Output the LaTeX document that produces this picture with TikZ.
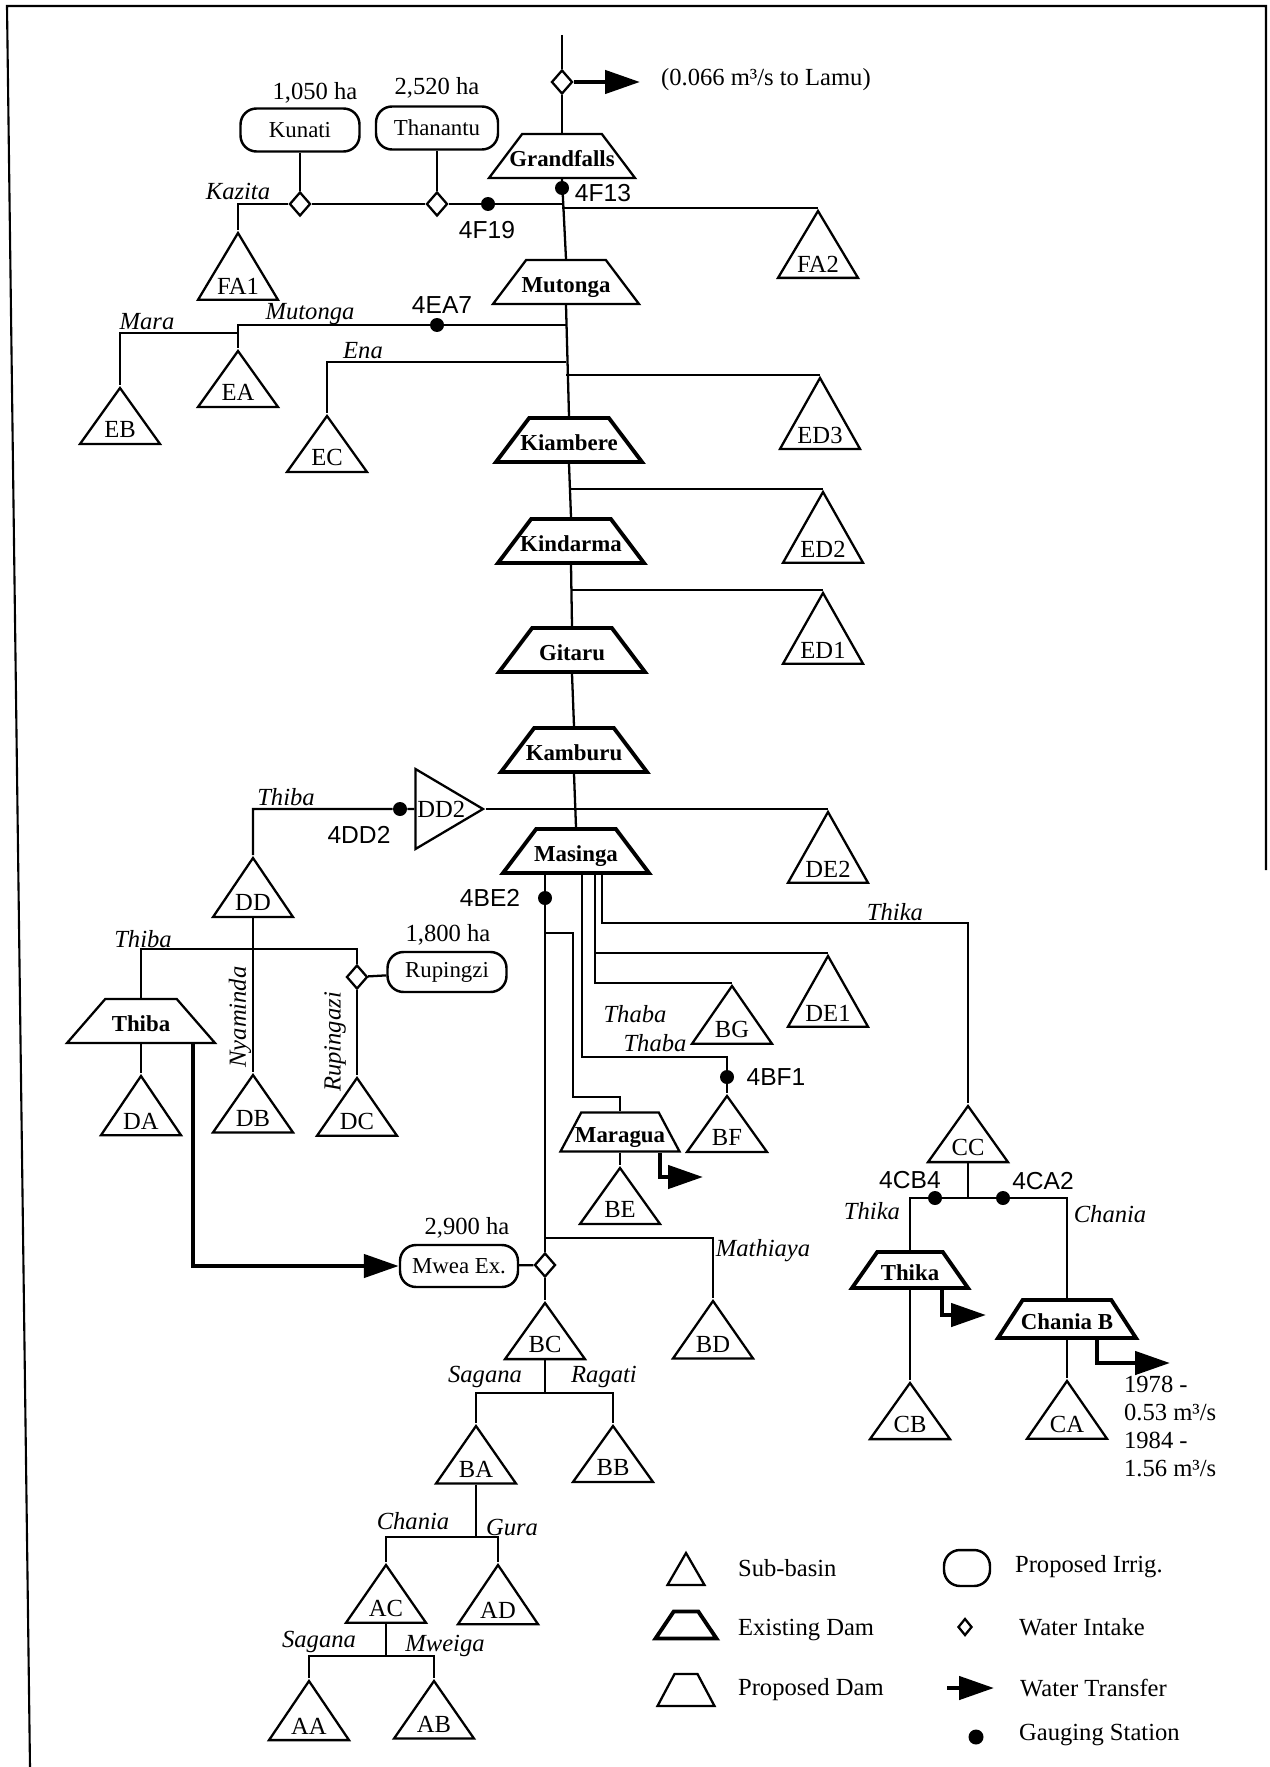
\documentclass[tikz,border=0pt]{standalone}
\usepackage{fontspec}
\setmainfont{Liberation Serif}
\newfontfamily\stnfont{Liberation Sans}
\usetikzlibrary{shapes.geometric}
\usetikzlibrary{arrows.meta}

\begin{document}
\begin{tikzpicture}[
    x=0.02cm, y=-0.02cm,
    % node styles
    basin/.style = {
      isosceles triangle,
      isosceles triangle stretches,
      shape border rotate=90,
      draw, line width=1.3pt,
      minimum width=1.6cm, minimum height=1.12cm,
      inner sep=0pt, anchor=apex,
      font=\fontsize{14}{16}\selectfont
    },
    dam/.style = {
      trapezium, trapezium angle=53,
      trapezium stretches body,
      draw, line width=1.3pt,
      minimum width=2.92cm, minimum height=0.88cm,
      text height=0.43cm, text depth=0cm,
      inner xsep=0pt, inner ysep=0.225cm,
      font=\bfseries\fontsize{13}{15}\selectfont
    },
    olddam/.style = {dam, line width=2.2pt},
    irrig/.style = {
      rectangle, rounded corners=0.32cm,
      draw, line width=1.4pt,
      minimum width=2.38cm, minimum height=0.86cm,
      inner sep=0pt,
      font=\fontsize{13}{15}\selectfont
    },
    intake/.style = {diamond, draw, fill=white, line width=1.3pt,
      inner sep=0pt, minimum width=0.42cm, minimum height=0.48cm},
    gauge/.style = {circle, fill=black, inner sep=0pt, minimum size=0.28cm},
    river/.style = {font=\itshape\fontsize{14}{16}\selectfont, inner sep=1pt},
    stn/.style = {font=\stnfont\fontsize{14}{16}\selectfont, inner sep=1pt},
    txt/.style = {font=\fontsize{14}{16}\selectfont, inner sep=1pt},
    % arrow styles
    flow/.style = {line width=1.3pt},
    transfer/.style = {-{Triangle[length=0.7cm, width=0.46cm]}, line width=2.6pt},
    frame/.style = {line width=1.2pt}
  ]
  \useasboundingbox (0,0) rectangle (1269,1767);

  % --- Frame
  \coordinate (tl) at (7,6);
  \coordinate (tr) at (1266,6);
  \coordinate (bl) at (30,1767);
  \coordinate (br) at (1266,870);
  \draw[frame] (bl) -- (tl) -- (tr) -- (br);

  % --- Dams
  \node[dam]    (grand) at (562,156) {\makebox[0pt]{Grandfalls}};
  \node[dam]    (mut)   at (566,282) {\makebox[0pt]{Mutonga}};
  \node[olddam] (kiam)  at (569,440) {\makebox[0pt]{Kiambere}};
  \node[olddam] (kind)  at (571,541) {\makebox[0pt]{Kindarma}};
  \node[olddam] (gita)  at (572,650) {\makebox[0pt]{Gitaru}};
  \node[olddam] (kamb)  at (574,750) {\makebox[0pt]{Kamburu}};
  \node[olddam] (masi)  at (576,851) {\makebox[0pt]{Masinga}};
  \node[dam, minimum width=2.96cm, trapezium angle=49] (thibad) at (141,1021) {\makebox[0pt]{Thiba}};
  \node[dam, minimum width=2.38cm, minimum height=0.78cm, inner ysep=0.175cm, trapezium angle=62] (marag) at (620,1132) {\makebox[0pt]{Maragua}};
  \node[olddam, minimum width=2.32cm, minimum height=0.72cm, inner ysep=0.145cm, trapezium angle=55] (thikad) at (910,1270) {\makebox[0pt]{Thika}};
  \node[olddam, minimum width=2.76cm, minimum height=0.76cm, inner ysep=0.165cm, trapezium angle=57] (chanb) at (1067,1319) {\makebox[0pt]{Chania B}};

  % --- Sub-basins
  \node[basin] (fa1) at (238,230) {FA1};
  \node[basin] (fa2) at (818,208) {FA2};
  \node[basin] (ea)  at (238,348) {EA};
  \node[basin] (eb)  at (120,385) {EB};
  \node[basin] (ec)  at (327,413) {EC};
  \node[basin] (ed3) at (820,375) {ED3};
  \node[basin] (ed2) at (823,489) {ED2};
  \node[basin] (ed1) at (823,590) {ED1};
  \node[basin] (de2) at (828,809) {DE2};
  \node[basin] (dd)  at (253,855) {DD};
  \node[basin] (de1) at (828,953) {DE1};
  \node[basin] (bg)  at (732,983) {BG};
  \node[basin] (bf)  at (727,1093) {BF};
  \node[basin] (be)  at (620,1165) {BE};
  \node[basin] (cc)  at (968,1103) {CC};
  \node[basin] (da)  at (141,1073) {DA};
  \node[basin] (db)  at (253,1072) {DB};
  \node[basin] (dc)  at (357,1075) {DC};
  \node[basin] (cb)  at (910,1380) {CB};
  \node[basin] (ca)  at (1067,1378) {CA};
  \node[basin] (bc)  at (545,1300) {BC};
  \node[basin] (bd)  at (713,1298) {BD};
  \node[basin] (ba)  at (476,1423) {BA};
  \node[basin] (bb)  at (613,1423) {BB};
  \node[basin] (ac)  at (386,1562) {AC};
  \node[basin] (ad)  at (498,1562) {AD};
  \node[basin] (aa)  at (309,1678) {AA};
  \node[basin] (ab)  at (434,1678) {AB};
  \node[basin, shape border rotate=0, minimum width=1.6cm, minimum height=1.24cm] (dd2) at (486,809) {DD2};

  % --- Irrigation, intakes, gauges
  \node[irrig] (kunati) at (300,130) {Kunati};
  \node[irrig, minimum width=2.44cm] (thanantu) at (437,128) {Thanantu};
  \node[irrig, minimum height=0.8cm] (rupingzi) at (447,972) {Rupingzi};
  \node[irrig, minimum width=2.36cm, minimum height=0.84cm] (mwea) at (459,1266) {Mwea Ex.};

  \node[intake] (inLamu) at (562,82) {};
  \node[intake] (inKun)  at (300,204) {};
  \node[intake] (inThan) at (437,204) {};
  \node[intake] (inRup)  at (357,977) {};
  \node[intake] (inMwea) at (545,1265) {};

  \node[gauge] (g4F19) at (488,204) {};
  \node[gauge] (g4F13) at (562,188) {};
  \node[gauge] (g4EA7) at (437,325) {};
  \node[gauge] (g4DD2) at (400,809) {};
  \node[gauge] (g4BE2) at (545,898) {};
  \node[gauge] (g4BF1) at (727,1077) {};
  \node[gauge] (g4CB4) at (935,1198) {};
  \node[gauge] (g4CA2) at (1003,1198) {};

  % --- Main river
  \coordinate (src) at (562,35);
  \draw[flow] (src) -- (inLamu) -- (grand.north);
  \draw[flow] (grand.south) -- (mut.north);
  \draw[flow] (mut.south) -- (kiam.north);
  \draw[flow] (kiam.south) -- (kind.north);
  \draw[flow] (kind.south) -- (gita.north);
  \draw[flow] (gita.south) -- (kamb.north);
  \draw[flow] (kamb.south) -- (masi.north);

  % --- Upper tributaries
  \draw[flow] (grand.south |- 0,204) -- (g4F19) -- (inThan) -- (inKun) -- (fa1.apex |- 0,204) -- (fa1.apex);
  \draw[flow] (inKun) -- (kunati);
  \draw[flow] (inThan) -- (thanantu);
  \draw[flow] (grand.south |- 0,208) -- (fa2.apex);
  \draw[flow] (mut.south |- 0,325) -- (g4EA7) -- (ea.apex |- 0,325) -- (ea.apex);
  \draw[flow] (ea.apex |- 0,333) -- (eb.apex |- 0,333) -- (eb.apex);
  \draw[flow] (mut.south |- 0,362) -- (ec.apex |- 0,362) -- (ec.apex);
  \draw[flow] (mut.south |- 0,375) -- (ed3.apex);
  \draw[flow] (kiam.south |- 0,489) -- (ed2.apex);
  \draw[flow] (kind.south |- 0,590) -- (ed1.apex);

  % --- Thiba and Masinga
  \draw[flow] (dd.apex) |- (g4DD2) -- (dd2);
  \draw[flow] (dd2.apex) -- (de2.apex);
  \draw[flow] (dd.lower side) -- (db.apex);
  \draw[flow] (thibad.north) |- (inRup |- 0,949) -- (inRup);
  \draw[flow] (inRup) -- (rupingzi);
  \draw[flow] (inRup) -- (dc.apex);
  \draw[flow] (thibad.south) -- (da.apex);

  \coordinate (maraBend) at (573,1097);
  \coordinate (bfBend) at (727,1057);
  \draw[flow] (masi.south -| g4BE2) -- (g4BE2) -- (inMwea);
  \draw[flow] (g4BE2 |- 0,933) -| (maraBend) -| (marag.north);
  \draw[flow] (marag.south) -- (be.apex);
  \draw[flow] (masi.south -| 582,0) |- (bfBend) -- (g4BF1) -- (bf.apex);
  \draw[flow] (masi.south -| 595,0) |- (bg.apex);
  \draw[flow] (de1.apex -| 595,0) -- (de1.apex);
  \draw[flow] (masi.south -| 602,0) |- (cc.apex |- 0,923) -- (cc.apex);

  % --- Lower Sagana
  \draw[flow] (inMwea) -- (mwea);
  \draw[flow] (inMwea) -- (bc.apex);
  \draw[flow] (inMwea |- 0,1238) -- (bd.apex |- 0,1238) -- (bd.apex);
  \coordinate (bcJ) at (545,1393);
  \coordinate (baJ) at (476,1537);
  \coordinate (acJ) at (386,1656);
  \draw[flow] (bc.lower side) -- (bcJ);
  \draw[flow] (ba.apex) |- (bcJ) -| (bb.apex);
  \draw[flow] (ba.lower side) -- (baJ);
  \draw[flow] (ac.apex) |- (baJ) -| (ad.apex);
  \draw[flow] (ac.lower side) -- (acJ);
  \draw[flow] (aa.apex) |- (acJ) -| (ab.apex);

  % --- Thika and Chania
  \coordinate (ccJ) at (968,1198);
  \draw[flow] (cc.lower side) -- (ccJ);
  \draw[flow] (thikad.north) |- (g4CB4) -- (g4CA2) -| (chanb.north);
  \draw[flow] (thikad.south) -- (cb.apex);
  \draw[flow] (chanb.south) -- (ca.apex);

  % --- Transfers
  \coordinate (lamuEnd) at (640,82);
  \coordinate (maraEnd) at (703,1177);
  \coordinate (thikaEnd) at (986,1315);
  \coordinate (chanEnd) at (1170,1363);
  \draw[transfer] (inLamu) -- (lamuEnd);
  \draw[transfer] (marag.south -| 660,0) |- (maraEnd);
  \draw[transfer] (thikad.south -| 942,0) |- (thikaEnd);
  \draw[transfer] (chanb.south -| 1097,0) |- (chanEnd);
  \draw[transfer] (thibad.south -| 193,0) |- (mwea);

  % --- Texts
  \node[txt] (haKun)  at (315,93) {1,050 ha};
  \node[txt] (haThan) at (437,88) {2,520 ha};
  \node[txt] (haRup)  at (448,935) {1,800 ha};
  \node[txt] (haMwea) at (467,1228) {2,900 ha};
  \node[txt, anchor=west] (lamu) at (659,80) {(0.066 m³/s to Lamu)};
  \node[txt, anchor=north west, align=left] (relCB) at (1122,1374) {1978 -\\0.53 m³/s\\1984 -\\1.56 m³/s};

  \node[river] (rKazita)  at (238,191) {Kazita};
  \node[river] (rMutonga) at (310,314) {Mutonga};
  \node[river] (rMara)    at (147,322) {Mara};
  \node[river] (rEna)     at (363,351) {Ena};
  \node[river] (rThibaU)  at (286,797) {Thiba};
  \node[river] (rThibaL)  at (143,939) {Thiba};
  \node[river, rotate=90] (rNyam) at (240,1017) {Nyaminda};
  \node[river, rotate=90] (rRupi) at (335,1042) {Rupingazi};
  \node[river] (rThikaU)  at (895,912) {Thika};
  \node[river] (rThaba1)  at (635,1014) {Thaba};
  \node[river] (rThaba2)  at (655,1043) {Thaba};
  \node[river] (rMath)    at (763,1251) {Mathiaya};
  \node[river] (rThikaL)  at (872,1211) {Thika};
  \node[river] (rChaniaR) at (1110,1214) {Chania};
  \node[river] (rSag1)    at (485,1377) {Sagana};
  \node[river] (rRag)     at (604,1377) {Ragati};
  \node[river] (rChania)  at (413,1521) {Chania};
  \node[river] (rGura)    at (512,1527) {Gura};
  \node[river] (rSag2)    at (319,1642) {Sagana};
  \node[river] (rMweiga)  at (445,1646) {Mweiga};

  \node[stn] (t4F19) at (487,230) {4F19};
  \node[stn] (t4F13) at (603,193) {4F13};
  \node[stn] (t4EA7) at (442,305) {4EA7};
  \node[stn] (t4DD2) at (359,835) {4DD2};
  \node[stn] (t4BE2) at (490,898) {4BE2};
  \node[stn] (t4BF1) at (776,1077) {4BF1};
  \node[stn] (t4CB4) at (910,1180) {4CB4};
  \node[stn] (t4CA2) at (1043,1181) {4CA2};

  % --- Legend
  \node[basin, minimum width=0.74cm, minimum height=0.64cm] (lgBasin) at (686,1550) {};
  \node[olddam, minimum width=1.22cm, minimum height=0.54cm, inner ysep=0.055cm, trapezium angle=56] (lgOld) at (686,1625) {};
  \node[dam, minimum width=1.14cm, minimum height=0.64cm, inner ysep=0.105cm, trapezium angle=62] (lgNew) at (686,1690) {};
  \node[irrig, minimum width=0.92cm, minimum height=0.72cm] (lgIrrig) at (967,1568) {};
  \node[intake, minimum width=0.28cm, minimum height=0.34cm] (lgIntake) at (965,1627) {};
  \coordinate (lgArrS) at (947,1688);
  \coordinate (lgArrE) at (994,1688);
  \draw[transfer] (lgArrS) -- (lgArrE);
  \node[gauge, minimum size=0.3cm] (lgGauge) at (976,1737) {};
  \node[txt, anchor=west] (lgT1) at (736,1568) {Sub-basin};
  \node[txt, anchor=west] (lgT2) at (736,1630) {Existing Dam};
  \node[txt, anchor=west] (lgT3) at (736,1690) {Proposed Dam};
  \node[txt, anchor=west] (lgT4) at (1013,1567) {Proposed Irrig.};
  \node[txt, anchor=west] (lgT5) at (1017,1627) {Water Intake};
  \node[txt, anchor=west] (lgT6) at (1018,1688) {Water Transfer};
  \node[txt, anchor=west] (lgT7) at (1017,1735) {Gauging Station};

\end{tikzpicture}
\end{document}
